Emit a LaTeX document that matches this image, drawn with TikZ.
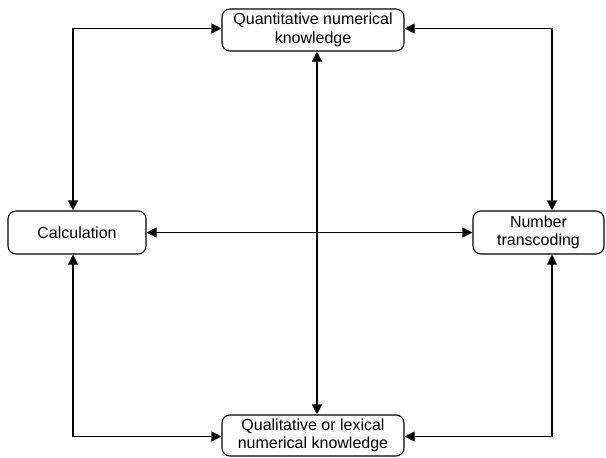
\documentclass[tikz,border=0pt]{standalone}
\usepackage{fontspec}
\setmainfont{Liberation Sans}
\usetikzlibrary{arrows.meta}
\begin{document}
\begin{tikzpicture}[x=1pt,y=-1pt,
  box/.style={draw,line width=1.1pt,rounded corners=8pt,align=center,inner sep=0pt,
    font=\fontsize{16}{18.5}\selectfont},
  link/.style={line width=1.1pt,{Triangle[length=10pt,width=10pt]}-{Triangle[length=10pt,width=10pt]}}]
\useasboundingbox (0,0) rectangle (606,458);
\node[box,minimum width=182pt,minimum height=42pt] (top) at (313,30) {Quantitative numerical\\knowledge};
\node[box,minimum width=138pt,minimum height=43pt] (calc) at (77,232.5) {Calculation};
\node[box,minimum width=131pt,minimum height=43pt] (nt) at (538.5,232.5) {Number\\transcoding};
\node[box,minimum width=182pt,minimum height=41pt] (bot) at (313,435.5) {Qualitative or lexical\\numerical knowledge};
\coordinate (tl) at (73,28.5);
\coordinate (tr) at (552,28.5);
\coordinate (bl) at (73,436.5);
\coordinate (br) at (552,436.5);
\coordinate (cv) at (317,0);
\draw[link] (top.west |- tl) -- (tl) -- (tl |- calc.north);
\draw[link] (top.east |- tr) -- (tr) -- (tr |- nt.north);
\draw[link] (calc.south -| bl) -- (bl) -- (bot.west |- bl);
\draw[link] (nt.south -| br) -- (br) -- (bot.east |- br);
\draw[link] (top.south -| cv) -- (bot.north -| cv);
\draw[link] (calc.east) -- (nt.west);
\end{tikzpicture}
\end{document}
